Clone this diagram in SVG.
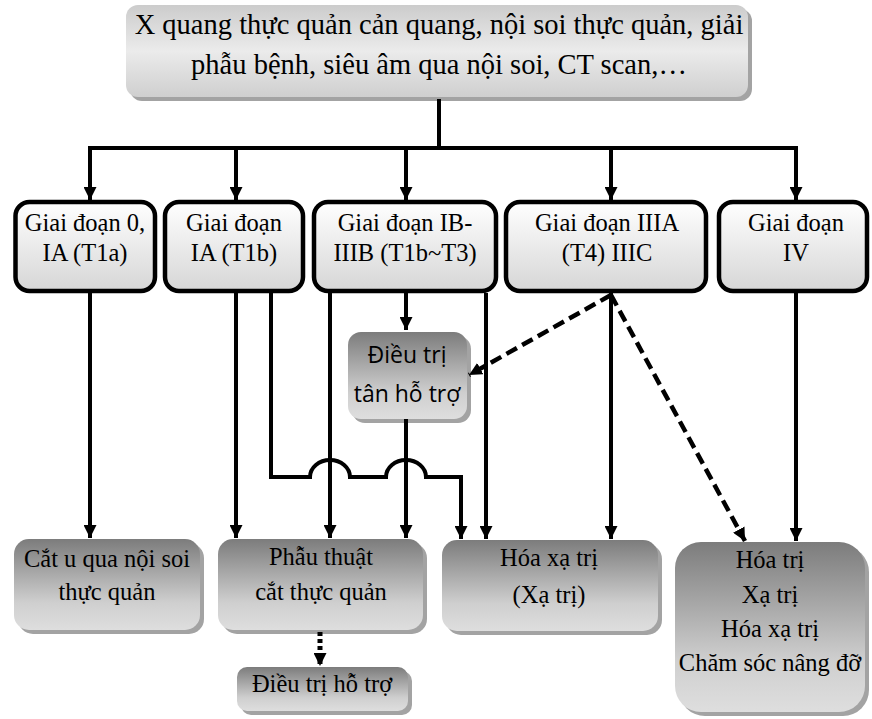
<svg xmlns="http://www.w3.org/2000/svg" width="872" height="719" viewBox="0 0 872 719">
<style>
.serif{font-family:"Liberation Serif","Times New Roman",serif;fill:#000;text-anchor:middle}
.t0{font-size:28.5px}
.t1{font-size:24.5px}
.sans{font-family:"Open Sans","Noto Sans",sans-serif;fill:#000;text-anchor:middle;font-size:23px}
.stage{fill:url(#gStage);stroke:#000;stroke-width:4.5}
.shadow{fill:#a3a3a3}
.dark{fill:url(#gDark)}
.ln{fill:none;stroke:#000;stroke-width:4}
.dash{fill:none;stroke:#000;stroke-width:4.5;stroke-dasharray:12 6}
.dot{fill:none;stroke:#000;stroke-width:5;stroke-dasharray:4 3}
</style>
<defs>
<linearGradient id="gStage" x1="0" y1="0" x2="0" y2="1">
<stop offset="0" stop-color="#ffffff"/>
<stop offset="1" stop-color="#d6d6d6"/>
</linearGradient>
<linearGradient id="gTop" x1="0" y1="0" x2="0" y2="1">
<stop offset="0" stop-color="#cccccc"/>
<stop offset="0.5" stop-color="#ebebeb"/>
<stop offset="1" stop-color="#cfcfcf"/>
</linearGradient>
<linearGradient id="gDark" x1="0" y1="0" x2="0" y2="1">
<stop offset="0" stop-color="#7c7c7c"/>
<stop offset="0.7" stop-color="#cfcfcf"/>
<stop offset="1" stop-color="#dedede"/>
</linearGradient>
<marker id="ah" markerUnits="userSpaceOnUse" markerWidth="14" markerHeight="13" refX="13" refY="6.5" orient="auto">
<path d="M0,0 L13,6.5 L0,13 z" fill="#000"/>
</marker>
</defs>

<g id="top">
<rect class="shadow" x="130" y="9" width="622" height="92" rx="12"/>
<rect x="126" y="5" width="622" height="92" rx="12" fill="url(#gTop)"/>
<text class="serif t0" x="439" y="34">X quang thực quản cản quang, nội soi thực quản, giải</text>
<text class="serif t0" x="439" y="74">phẫu bệnh, siêu âm qua nội soi, CT scan,…</text>
</g>

<g id="stage1">
<rect class="stage" x="15.5" y="202" width="139.5" height="89" rx="14"/>
<text class="serif t1" x="85" y="231">Giai đoạn 0,</text>
<text class="serif t1" x="85" y="261">IA (T1a)</text>
</g>
<g id="stage2">
<rect class="stage" x="165" y="202" width="138" height="89" rx="14"/>
<text class="serif t1" x="234" y="231">Giai đoạn</text>
<text class="serif t1" x="234" y="261">IA (T1b)</text>
</g>
<g id="stage3">
<rect class="stage" x="314" y="202" width="182" height="89" rx="14"/>
<text class="serif t1" x="405" y="231">Giai đoạn IB-</text>
<text class="serif t1" x="405" y="261">IIIB (T1b~T3)</text>
</g>
<g id="stage4">
<rect class="stage" x="506" y="202" width="200" height="89" rx="14"/>
<text class="serif t1" x="607" y="231">Giai đoạn IIIA</text>
<text class="serif t1" x="607" y="261">(T4) IIIC</text>
</g>
<g id="stage5">
<rect class="stage" x="719" y="202" width="148" height="89" rx="14"/>
<text class="serif t1" x="796" y="231">Giai đoạn</text>
<text class="serif t1" x="796" y="261">IV</text>
</g>

<g id="neoadjuvant">
<rect class="shadow" x="352" y="336" width="119" height="87" rx="13"/>
<rect class="dark" x="348" y="332" width="119" height="87" rx="13"/>
<text class="sans" x="407" y="363">Điều trị</text>
<text class="sans" x="407" y="402">tân hỗ trợ</text>
</g>

<g id="endoscopic">
<rect class="shadow" x="18" y="543" width="186" height="91" rx="15"/>
<rect class="dark" x="14" y="539" width="186" height="91" rx="15"/>
<text class="serif t1" x="107" y="567">Cắt u qua nội soi</text>
<text class="serif t1" x="107" y="600">thực quản</text>
</g>
<g id="surgery">
<rect class="shadow" x="222" y="543" width="205" height="91" rx="15"/>
<rect class="dark" x="218" y="539" width="205" height="91" rx="15"/>
<text class="serif t1" x="321" y="565">Phẫu thuật</text>
<text class="serif t1" x="321" y="600">cắt thực quản</text>
</g>
<g id="chemoradio">
<rect class="shadow" x="446" y="544" width="216" height="91" rx="15"/>
<rect class="dark" x="442" y="540" width="216" height="91" rx="15"/>
<text class="serif t1" x="549" y="566">Hóa xạ trị</text>
<text class="serif t1" x="549" y="603">(Xạ trị)</text>
</g>
<g id="palliative">
<rect class="shadow" x="679" y="546" width="190" height="170" rx="26"/>
<rect class="dark" x="675" y="542" width="190" height="170" rx="26"/>
<text class="serif t1" x="770" y="568">Hóa trị</text>
<text class="serif t1" x="770" y="603">Xạ trị</text>
<text class="serif t1" x="770" y="637">Hóa xạ trị</text>
<text class="serif t1" x="770" y="671">Chăm sóc nâng đỡ</text>
</g>
<g id="adjuvant">
<rect class="shadow" x="241" y="671" width="171" height="44" rx="10"/>
<rect class="dark" x="237" y="667" width="171" height="44" rx="10"/>
<text class="serif t1" x="322" y="692">Điều trị hỗ trợ</text>
</g>

<g id="connectors">
<path class="ln" d="M439,99 V148"/>
<path class="ln" d="M88,148 H798" stroke-width="5"/>
<path class="ln" d="M90,148 V200" marker-end="url(#ah)"/>
<path class="ln" d="M236,148 V200" marker-end="url(#ah)"/>
<path class="ln" d="M406,148 V200" marker-end="url(#ah)"/>
<path class="ln" d="M611,148 V200" marker-end="url(#ah)"/>
<path class="ln" d="M796,148 V200" marker-end="url(#ah)"/>

<path class="ln" d="M90,293 V538" marker-end="url(#ah)"/>
<path class="ln" d="M236,293 V538" marker-end="url(#ah)"/>
<path class="ln" d="M271,293 V477 H310 A20 17 0 0 1 350 477 H386 A20 17 0 0 1 426 477 H461 V539" marker-end="url(#ah)"/>
<path class="ln" d="M330,293 V538" marker-end="url(#ah)"/>
<path class="ln" d="M406,293 V330" marker-end="url(#ah)"/>
<path class="ln" d="M406,419 V538" marker-end="url(#ah)"/>
<path class="ln" d="M486,293 V539" marker-end="url(#ah)"/>
<path class="ln" d="M611,293 V539" marker-end="url(#ah)"/>
<path class="ln" d="M796,293 V541" marker-end="url(#ah)"/>
<path class="dash" d="M611,295 L469,375" marker-end="url(#ah)"/>
<path class="dash" d="M611,295 L745,541" marker-end="url(#ah)"/>
<path class="dot" d="M320,632 V666" marker-end="url(#ah)"/>
</g>
</svg>
